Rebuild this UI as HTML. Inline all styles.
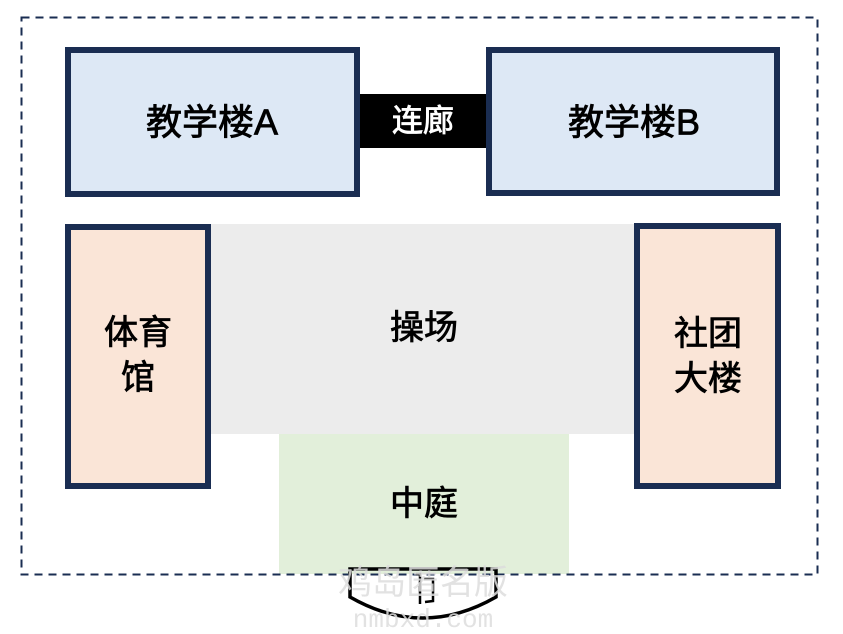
<!DOCTYPE html>
<html><head><meta charset="utf-8"><style>
html,body{margin:0;padding:0;background:#fff;}
svg{display:block;}
text{font-family:"Liberation Sans","Noto Sans CJK SC",sans-serif;font-size:34px;font-weight:normal;fill:#000;stroke:#000;stroke-width:0.8;text-anchor:middle;dominant-baseline:central;}
</style></head><body>
<svg width="843" height="634" viewBox="0 0 843 634">
<rect x="0" y="0" width="843" height="634" fill="#fff"/>
<rect x="279" y="434" width="290" height="140" fill="#e2efda"/>
<rect x="211" y="224" width="424" height="210" fill="#ececec"/>
<rect x="21.5" y="17.5" width="796" height="557" fill="none" stroke="#1a2d52" stroke-width="2" stroke-dasharray="8,6"/>
<rect x="360" y="94" width="127" height="54" fill="#000"/>
<rect x="68" y="50" width="289" height="144" fill="#dde8f5" stroke="#1a2d52" stroke-width="6"/>
<rect x="489" y="50" width="288" height="143" fill="#dde8f5" stroke="#1a2d52" stroke-width="6"/>
<rect x="68" y="227" width="140" height="259" fill="#fae5d7" stroke="#1a2d52" stroke-width="6"/>
<rect x="637" y="226" width="141" height="260" fill="#fae5d7" stroke="#1a2d52" stroke-width="6"/>
<text x="212" y="122" style="font-size:36px">教学楼A</text>
<text x="634" y="122" style="font-size:36px">教学楼B</text>
<text x="423" y="121" style="fill:#fff;stroke:#fff;font-size:31px">连廊</text>
<text x="424" y="328">操场</text>
<text x="424" y="504">中庭</text>
<text x="138" y="333">体育</text>
<text x="138" y="378">馆</text>
<text x="708" y="334">社团</text>
<text x="708" y="379">大楼</text>
<path d="M350,569 L496,569 L496,597 Q423,639 350,597 Z" fill="none" stroke="#000" stroke-width="3.5"/>
<path d="M416,574 L420,574 L420,604" fill="none" stroke="#000" stroke-width="2.5"/>
<path d="M424,579 L433,579 L433,601 L425,602" fill="none" stroke="#000" stroke-width="2.5"/>
<text x="423" y="583" style="fill:#ddd;stroke:none;font-size:34px;opacity:0.85">鸡岛匿名版</text>
<text x="423" y="620" style="fill:#ddd;stroke:none;font-size:26px;font-family:'Liberation Mono',monospace;opacity:0.85">nmbxd.com</text>
</svg>
</body></html>
